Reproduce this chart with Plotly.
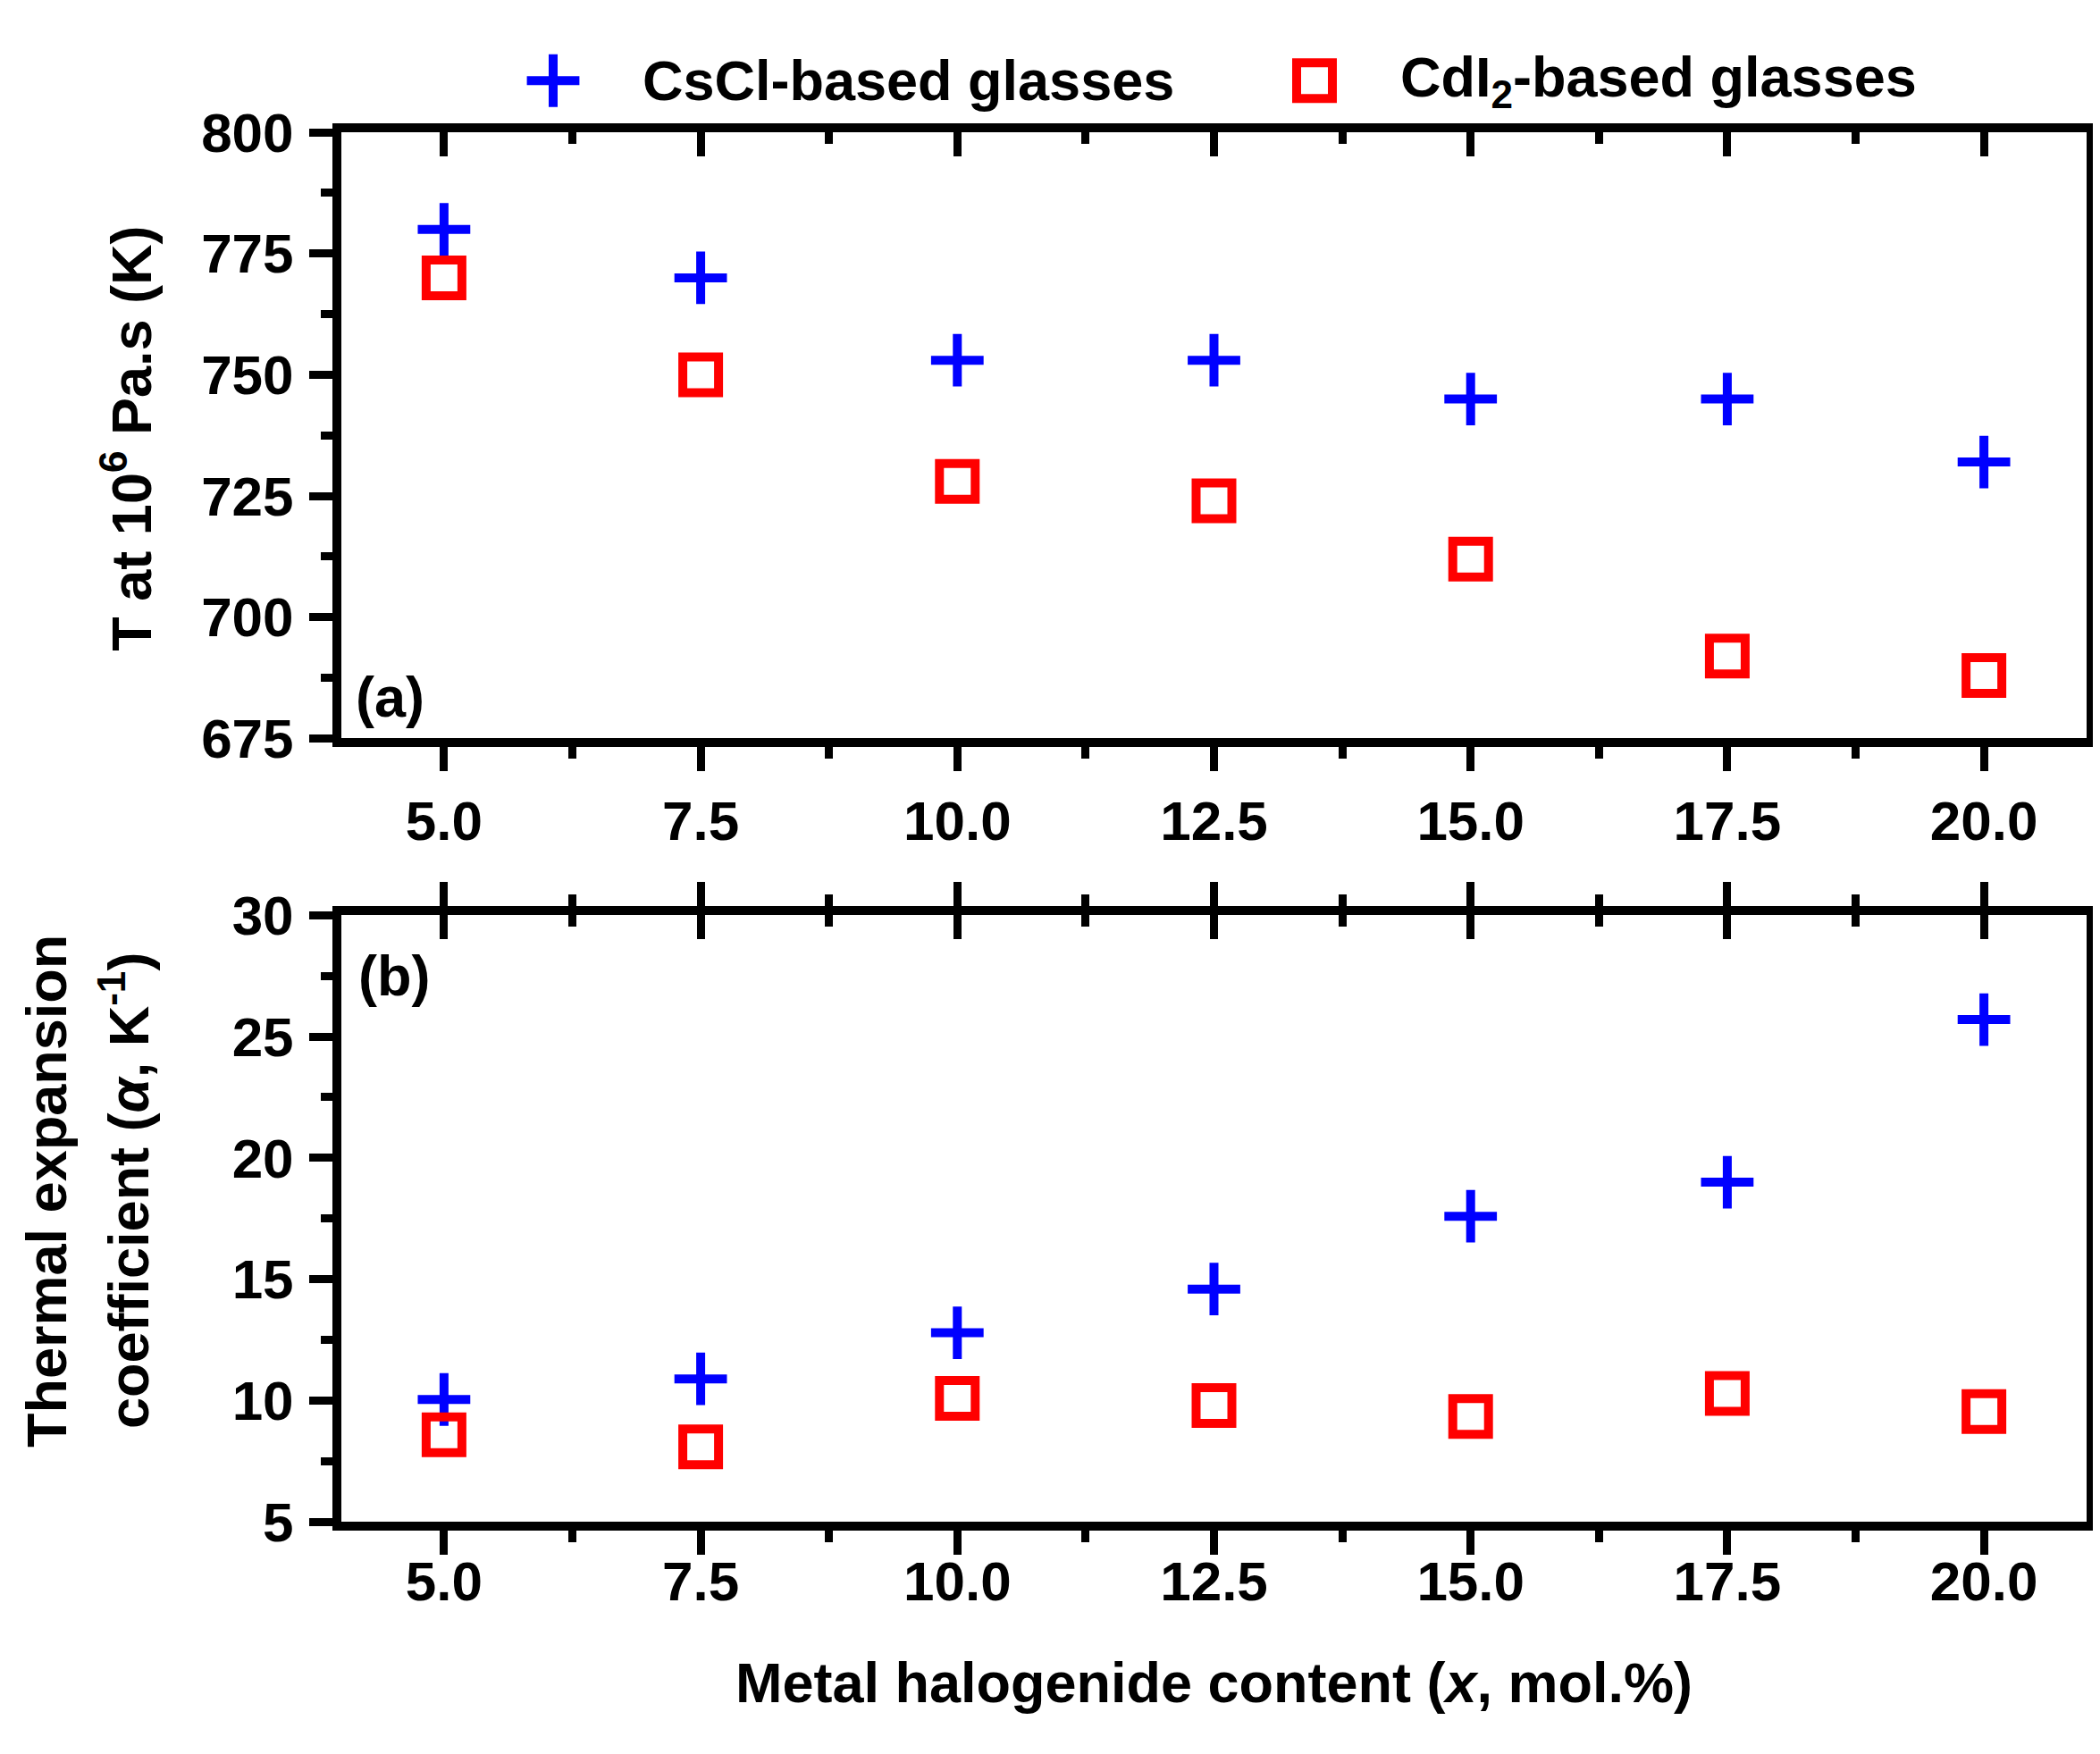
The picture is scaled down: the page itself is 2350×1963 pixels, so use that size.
import plotly.graph_objects as go

# metal halogenide content, mol.%
x_content = [5.0, 7.5, 10.0, 12.5, 15.0, 17.5, 20.0]

# (a) temperature at 10^6 Pa.s, K
t_cscl = [780, 770, 753, 753, 745, 745, 732]
t_cdi2 = [770, 750, 728, 724, 712, 692, 688]

# (b) thermal expansion coefficient
a_cscl = [10.05, 10.9, 12.8, 14.6, 17.6, 19.0, 25.7]
a_cdi2 = [8.6, 8.1, 10.1, 9.8, 9.35, 10.3, 9.55]

x_ticks = [5.0, 7.5, 10.0, 12.5, 15.0, 17.5, 20.0]
t_ticks = [675, 700, 725, 750, 775, 800]
a_ticks = [5, 10, 15, 20, 25, 30]

legend_names = ["CsCl-based glasses", "CdI<sub>2</sub>-based glasses"]

W, H = 2350, 1963
FONT = "Liberation Sans, Arial, sans-serif"
BLUE = "#0000FF"
RED = "#FF0000"

# pixel layout of the figure
PX_L, PX_R = 374, 2327
PX_A = (110, 813)     # top panel (top, bottom)
PX_B = (1018, 1722)   # bottom panel


def px_x(p):
    return p / W


def px_y(p):
    return 1 - p / H


cross = dict(symbol="cross-thin", size=42, color=BLUE, line=dict(width=10, color=BLUE))
square = dict(symbol="square-open", size=40, color=RED, line=dict(width=10, color=RED))

fig = go.Figure()

fig.add_trace(go.Scatter(x=x_content, y=t_cscl, mode="markers", marker=cross,
                         xaxis="x", yaxis="y", showlegend=False))
fig.add_trace(go.Scatter(x=x_content, y=t_cdi2, mode="markers", marker=square,
                         xaxis="x", yaxis="y", showlegend=False))
fig.add_trace(go.Scatter(x=x_content, y=a_cscl, mode="markers", marker=cross,
                         xaxis="x2", yaxis="y2", showlegend=False))
fig.add_trace(go.Scatter(x=x_content, y=a_cdi2, mode="markers", marker=square,
                         xaxis="x2", yaxis="y2", showlegend=False))

# empty traces so the top (inward tick) axes get drawn
fig.add_trace(go.Scatter(x=[], y=[], xaxis="x3", yaxis="y", showlegend=False))
fig.add_trace(go.Scatter(x=[], y=[], xaxis="x4", yaxis="y2", showlegend=False))

# legend keys drawn on a hidden full-page axis (pixel units)
LEG_Y = 50
LEG_KEYS_X = [611, 1463]
LEG_TEXT_X = [709, 1557]
fig.add_trace(go.Scatter(x=[LEG_KEYS_X[0]], y=[LEG_Y], mode="markers", marker=cross,
                         xaxis="x5", yaxis="y5", showlegend=False, hoverinfo="skip"))
fig.add_trace(go.Scatter(x=[LEG_KEYS_X[1]], y=[LEG_Y], mode="markers", marker=square,
                         xaxis="x5", yaxis="y5", showlegend=False, hoverinfo="skip"))

tickfont = dict(family=FONT, size=62, color="black", weight="bold")
x_dom = [px_x(PX_L), px_x(PX_R)]
x_range = [4, 21]

xcommon = dict(
    domain=x_dom, range=x_range, tickvals=x_ticks, tickformat=".1f",
    showline=True, linewidth=10, linecolor="black",
    ticks="outside", ticklen=27, tickwidth=9, tickcolor="black",
    minor=dict(tick0=6.25, dtick=2.5, ticks="outside", ticklen=13, tickwidth=9, tickcolor="black"),
    showgrid=False, zeroline=False, tickfont=tickfont,
)
xtop = dict(
    domain=x_dom, range=x_range, tickvals=x_ticks, side="top",
    showline=True, linewidth=10, linecolor="black", showticklabels=False,
    ticks="inside", ticklen=27, tickwidth=9, tickcolor="black",
    minor=dict(tick0=6.25, dtick=2.5, ticks="inside", ticklen=13, tickwidth=9, tickcolor="black"),
    showgrid=False, zeroline=False,
)
ycommon = dict(
    showline=True, linewidth=10, linecolor="black", mirror=True,
    ticks="outside", ticklen=26, tickwidth=9, tickcolor="black",
    showgrid=False, zeroline=False, tickfont=tickfont, ticklabelstandoff=5,
)

fig.update_layout(
    width=W, height=H,
    margin=dict(l=0, r=0, t=0, b=0),
    paper_bgcolor="white", plot_bgcolor="rgba(0,0,0,0)",
    showlegend=False,
    xaxis=dict(xcommon, anchor="y", ticklabelstandoff=2),
    xaxis3=dict(xtop, anchor="y", overlaying="x"),
    yaxis=dict(ycommon, domain=[px_y(PX_A[1]), px_y(PX_A[0])], range=[675, 800],
               tickvals=t_ticks, anchor="x",
               minor=dict(tick0=687.5, dtick=25, ticks="outside", ticklen=13, tickwidth=9, tickcolor="black")),
    xaxis2=dict(xcommon, anchor="y2", mirror="ticks", ticklabelstandoff=-24),
    xaxis4=dict(xtop, anchor="y2", overlaying="x2"),
    yaxis2=dict(ycommon, domain=[px_y(PX_B[1]), px_y(PX_B[0])], range=[5, 30],
                tickvals=a_ticks, anchor="x2",
                minor=dict(tick0=7.5, dtick=5, ticks="outside", ticklen=13, tickwidth=9, tickcolor="black")),
    xaxis5=dict(domain=[0, 1], range=[0, W], visible=False, anchor="y5", fixedrange=True),
    yaxis5=dict(domain=[0, 1], range=[H, 0], visible=False, anchor="x5", fixedrange=True),
)

lab = dict(family=FONT, size=63, color="black", weight="bold")
ann = [
    dict(text=legend_names[0], x=px_x(LEG_TEXT_X[0]), y=px_y(LEG_Y), xanchor="left", yanchor="middle"),
    dict(text=legend_names[1], x=px_x(LEG_TEXT_X[1]), y=px_y(LEG_Y), xanchor="left", yanchor="middle"),
    dict(text="T at 10<sup>6</sup> Pa.s (K)", x=px_x(134), y=px_y(465), textangle=-90,
         xanchor="center", yanchor="middle"),
    dict(text="Thermal expansion", x=px_x(44), y=px_y(1338), textangle=-90,
         xanchor="center", yanchor="middle"),
    dict(text="coefficient (<i>\u03b1</i>, K<sup>-1</sup>)", x=px_x(132), y=px_y(1338), textangle=-90,
         xanchor="center", yanchor="middle"),
    dict(text="Metal halogenide content (<i>x</i>, mol.%)", x=px_x(1350), y=px_y(1908),
         xanchor="center", yanchor="middle"),
    dict(text="(a)", x=px_x(428), y=px_y(765), xanchor="center", yanchor="middle"),
    dict(text="(b)", x=px_x(433), y=px_y(1088), xanchor="center", yanchor="middle"),
]
for a in ann:
    fig.add_annotation(xref="paper", yref="paper", showarrow=False, font=lab, **a)

fig.write_html("out.html")
